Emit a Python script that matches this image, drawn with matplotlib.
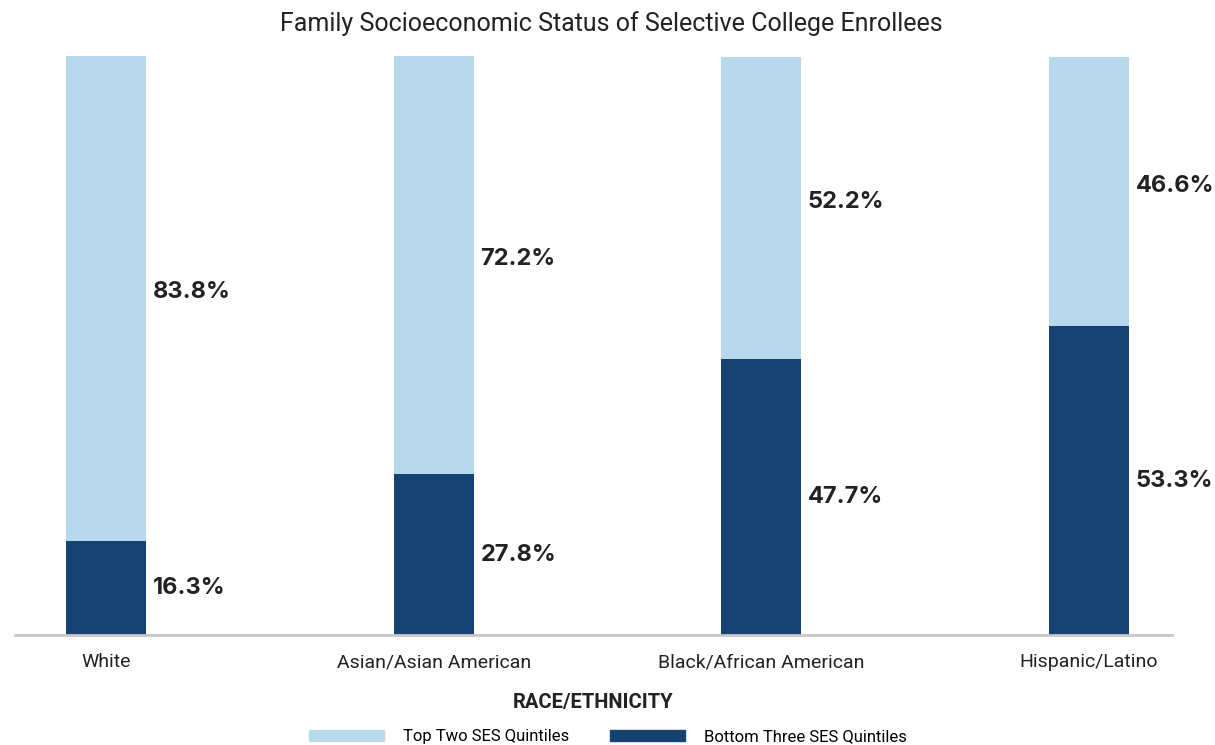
import matplotlib.pyplot as plt
from matplotlib.patches import Patch
import numpy as np

# data
groups = ['White', 'Asian/Asian American', 'Black/African American', 'Hispanic/Latino']
bottom_three = [16.3, 27.8, 47.7, 53.3]
top_two = [83.8, 72.2, 52.2, 46.6]

light = '#B8D9EC'
dark = '#154173'

plt.rcParams['font.family'] = ['Roboto', 'DejaVu Sans']

fig = plt.figure(figsize=(12.15, 7.45), dpi=100)
ax = fig.add_axes([15 / 1215, 1 - 635 / 745, (1172 - 15) / 1215, (635 - 56) / 745])

x = np.arange(len(groups))
w = 0.244
ax.bar(x, bottom_three, w, color=dark)
ax.bar(x, top_two, w, bottom=bottom_three, color=light)

for i in x:
    b, t = bottom_three[i], top_two[i]
    ax.text(i + w / 2 + 0.02, b / 2, f'{b:.1f}%', va='center', ha='left',
            fontsize=17, fontweight='bold', color='#222222', family=['Inter', 'Roboto'])
    ax.text(i + w / 2 + 0.02, b + t / 2 + 1, f'{t:.1f}%', va='center', ha='left',
            fontsize=17, fontweight='bold', color='#222222', family=['Inter', 'Roboto'])

ax.set_xlim(-0.278, 3.253)
ax.set_ylim(0, 100)
ax.set_yticks([])
ax.set_xticks(x)
ax.set_xticklabels(groups, fontsize=14, color='#222222')
ax.tick_params(axis='x', length=0, pad=13)
for s in ['top', 'right', 'left']:
    ax.spines[s].set_visible(False)
ax.spines['bottom'].set_color('#C8C8C8')
ax.spines['bottom'].set_linewidth(2)

ax.set_xlabel('RACE/ETHNICITY', fontsize=14.5, fontweight='bold', color='#222222', labelpad=16)
fig.text(611 / 1215, 1 - 24 / 745, 'Family Socioeconomic Status of Selective College Enrollees',
         ha='center', va='center', fontsize=18, color='#222222')

handles = [Patch(color=light), Patch(color=dark)]
fig.legend(handles, ['Top Two SES Quintiles', 'Bottom Three SES Quintiles'],
           loc='center', bbox_to_anchor=(608 / 1215, 1 - 737 / 745), ncol=2,
           frameon=False, fontsize=12, handlelength=4.5, handleheight=0.6,
           columnspacing=2.4, handletextpad=1.15)

fig.savefig('out.png', dpi=100)
